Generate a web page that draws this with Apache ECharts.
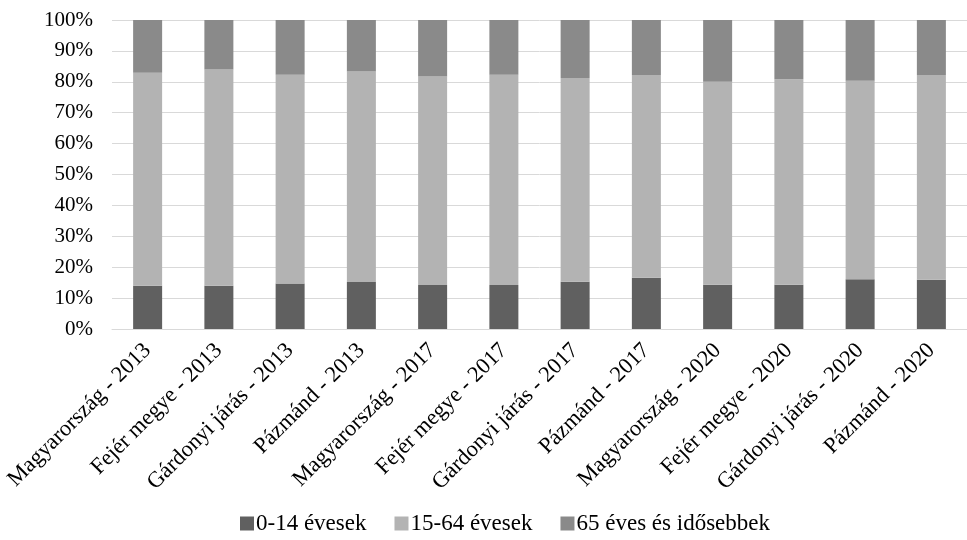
<!DOCTYPE html>
<html>
<head>
<meta charset="utf-8">
<script src="https://cdn.jsdelivr.net/npm/echarts@6/dist/echarts.min.js"></script>
<style>html,body{margin:0;padding:0;background:#fff}#c{width:967px;height:540px}</style>
</head>
<body>
<div id="c"></div>
<script>
const categories = ["Magyarország - 2013","Fejér megye - 2013","Gárdonyi járás - 2013","Pázmánd - 2013","Magyarország - 2017","Fejér megye - 2017","Gárdonyi járás - 2017","Pázmánd - 2017","Magyarország - 2020","Fejér megye - 2020","Gárdonyi járás - 2020","Pázmánd - 2020"];
const seriesNames = ["0-14 évesek","15-64 évesek","65 éves és idősebbek"];
const age0_14 = [14.0,14.0,14.7,15.2,14.2,14.2,15.3,16.6,14.3,14.3,16.1,15.9];
const age15_64 = [68.9,70.0,67.6,68.1,67.5,68.1,65.9,65.6,65.7,66.5,64.2,66.3];
const age65 = [17.1,16.0,17.7,16.7,18.3,17.7,18.8,17.8,20.0,19.2,19.7,17.8];
const yTicks = [0,10,20,30,40,50,60,70,80,90,100];

const colors = ["#606060","#b3b3b3","#8a8a8a"];
const font = "'Liberation Serif','Times New Roman',serif";
const chart = echarts.init(document.getElementById('c'), null, {renderer:'canvas'});
const dataSets = [age0_14, age15_64, age65];
chart.setOption({
  animation:false,
  color: colors,
  textStyle:{fontFamily:font, color:'#000'},
  grid:{left:112, top:20, width:866, height:309, containLabel:false},
  legend:{
    bottom:0, left:235, itemWidth:14, itemHeight:14, itemGap:28,
    icon:'rect',
    textStyle:{fontFamily:font, fontSize:23, color:'#000', padding:[0,0,0,-3]},
    data: seriesNames
  },
  xAxis:{
    type:'category', data:categories,
    axisLine:{lineStyle:{color:'#d9d9d9', width:1}},
    axisTick:{show:false},
    axisLabel:{rotate:45, interval:0, fontFamily:font, fontSize:22.5, color:'#000', margin:18}
  },
  yAxis:{
    type:'value', min:0, max:100, interval:10,
    axisLine:{show:false}, axisTick:{show:false},
    splitLine:{lineStyle:{color:'#d9d9d9', width:1}},
    axisLabel:{fontFamily:font, fontSize:21, color:'#000', margin:19,
      formatter:v=> yTicks.includes(v) ? v+'%' : ''}
  },
  series: seriesNames.map((n,i)=>({
    name:n, type:'bar', stack:'total', barWidth:29,
    data:dataSets[i],
    itemStyle:{color:colors[i]}
  }))
});
</script>
</body>
</html>
